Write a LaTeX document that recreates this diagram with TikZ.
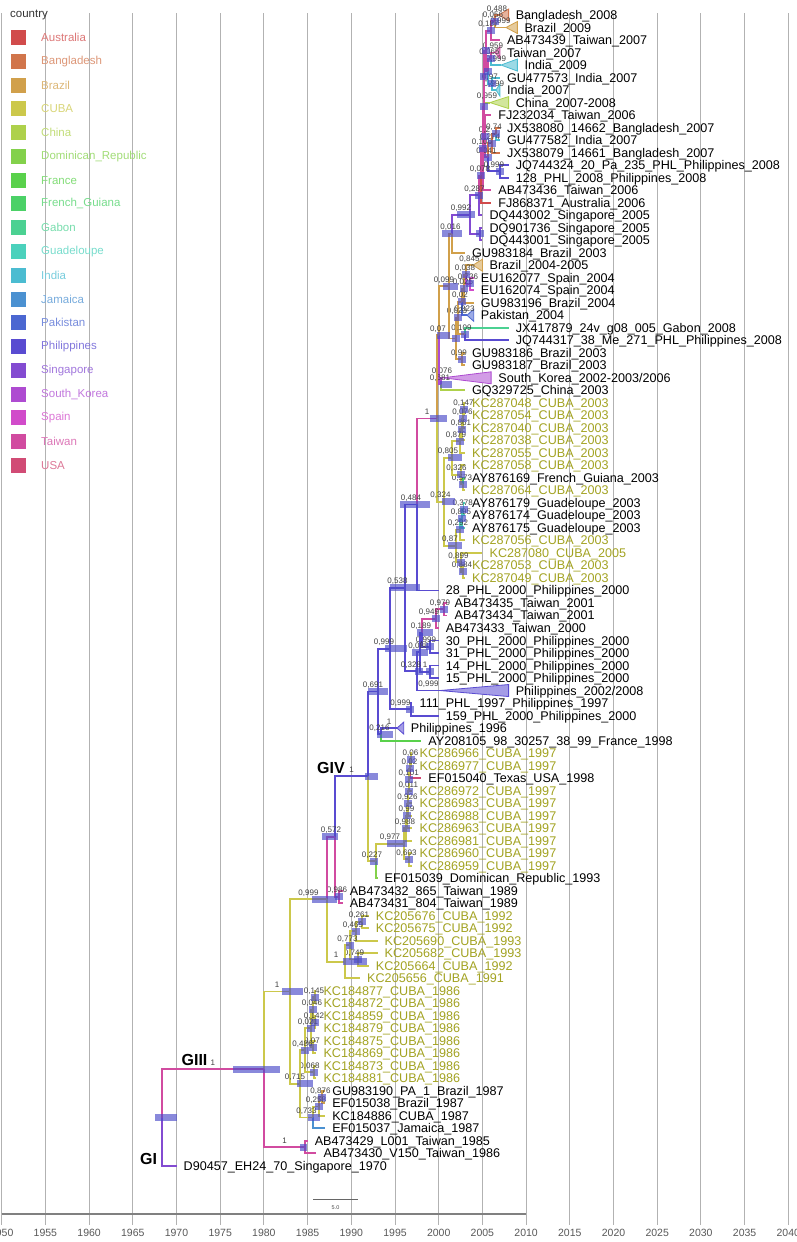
\documentclass[tikz,border=0pt]{standalone}
\usepackage{fontspec}
\setmainfont{Liberation Sans}
\usetikzlibrary{calc}

% country colours (legend order)
\definecolor{cAUS}{HTML}{D14B4B}
\definecolor{cBGD}{HTML}{D1754B}
\definecolor{cBRA}{HTML}{D1A04B}
\definecolor{cCUB}{HTML}{CCC84B}
\definecolor{cCHN}{HTML}{AED14B}
\definecolor{cDOM}{HTML}{83D14B}
\definecolor{cFRA}{HTML}{59D14B}
\definecolor{cGUF}{HTML}{4BD167}
\definecolor{cGAB}{HTML}{4BD192}
\definecolor{cGLP}{HTML}{4BD1BC}
\definecolor{cIND}{HTML}{4BBCD1}
\definecolor{cJAM}{HTML}{4B91D1}
\definecolor{cPAK}{HTML}{4B67D1}
\definecolor{cPHL}{HTML}{594BD1}
\definecolor{cSGP}{HTML}{834BD1}
\definecolor{cKOR}{HTML}{AE4BD1}
\definecolor{cESP}{HTML}{D14BCA}
\definecolor{cTW}{HTML}{D14BA0}
\definecolor{cUSA}{HTML}{D14B75}
\definecolor{cubatxt}{HTML}{A3A322}
\definecolor{hpdblue}{HTML}{4A4AC8}

\begin{document}
\begin{tikzpicture}[x=1pt, y=-1pt,
    br/.style={line width=1.9pt},
    nl/.style={anchor=base, inner sep=0pt, yshift=4pt, text=black!75, font=\fontsize{8}{8}\selectfont},
    lab/.style={anchor=base west, inner sep=0pt, xshift=7pt, yshift=-4.5pt, font=\fontsize{12.6}{12.6}\selectfont},
    clab/.style={inner sep=0pt, font=\fontsize{16}{16}\selectfont\bfseries},
    hpd/.style={fill=hpdblue, fill opacity=.65},
    grid/.style={draw=black!30, line width=.9pt}]

  % node: name, x, child 1, colour, label, child 2, colour, label
  \newcommand\nd[8]{%
    \path let \p1=($(#3)!.5!(#6)$) in coordinate (#1) at (#2pt,\y1);
    \draw[br,#4] (#1) |- (#3) node[nl,pos=.75] {#5};
    \draw[br,#7] (#1) |- (#6) node[nl,pos=.75] {#8};}
  % collapsed clade: apex name, apex x, tip, colour
  \newcommand\clade[4]{%
    \path let \p1=(#3) in coordinate (#1) at (#2pt,\y1);
    \filldraw[#4, fill=#4!55, line width=.8pt] (#1) -- ([yshift=6pt]#3) -- ([yshift=-6pt]#3) -- cycle;}
  % height bars
  \newcommand\hpd[3]{\path let \p1=(#1) in [hpd] (#2pt,\y1-3.5pt) rectangle (#3pt,\y1+3.5pt);}
  \newcommand\sbar[1]{\path let \p1=(#1) in [hpd] (\x1-4pt,\y1-3.5pt) rectangle (\x1+4pt,\y1+3.5pt);}

  \fill[white] (0,0) rectangle (797,1242);
  \useasboundingbox (0,0) rectangle (797,1242);

  % Time axis
  \foreach \yr in {1950,1955,...,2040} {
    \draw[grid] ({1.7+(\yr-1950)*8.74},13) -- ({1.7+(\yr-1950)*8.74},1225);
    \node[text=black!65, font=\fontsize{10.5}{10.5}\selectfont] (ax\yr) at ({1.7+(\yr-1950)*8.74},1233) {\yr};
  }
  \draw[black!50, line width=2pt] (1.7,1214) -- (526.1,1214);
  \coordinate (sb1) at (313,1199);
  \coordinate (sb2) at (358,1199);
  \draw[black!60, line width=1pt] (sb1) -- (sb2);
  \node[text=black!70, font=\fontsize{5.5}{5.5}\selectfont] (sblab) at (335.5,1207.5) {5.0};

  % Legend
  \node[anchor=west, inner sep=0pt, text=black!80, font=\fontsize{11.5}{11.5}\selectfont] (legtitle) at (10,15) {country};
  \foreach \c/\t [count=\k from 0] in {cAUS/Australia, cBGD/Bangladesh, cBRA/Brazil, cCUB/CUBA,
      cCHN/China, cDOM/Dominican\_Republic, cFRA/France, cGUF/French\_Guiana, cGAB/Gabon,
      cGLP/Guadeloupe, cIND/India, cJAM/Jamaica, cPAK/Pakistan, cPHL/Philippines,
      cSGP/Singapore, cKOR/South\_Korea, cESP/Spain, cTW/Taiwan, cUSA/USA} {
    \fill[\c] (11,{30+\k*23.78}) rectangle ++(15,15);
    \node[anchor=west, inner sep=0pt, text=\c!75, font=\fontsize{11.5}{11.5}\selectfont] (leg\k) at (41,{37.5+\k*23.78}) {\t};
  }

  % Tips
  \foreach \i/\yr/\lc/\txt in {
    1/2008/black/Bangladesh\_2008,
    2/2009/black/Brazil\_2009,
    3/2007/black/AB473439\_Taiwan\_2007,
    4/2007/black/Taiwan\_2007,
    5/2009/black/India\_2009,
    6/2007/black/GU477573\_India\_2007,
    7/2007/black/India\_2007,
    8/2008/black/China\_2007-2008,
    9/2006/black/FJ232034\_Taiwan\_2006,
    10/2007/black/JX538080\_14662\_Bangladesh\_2007,
    11/2007/black/GU477582\_India\_2007,
    12/2007/black/JX538079\_14661\_Bangladesh\_2007,
    13/2008/black/JQ744324\_20\_Pa\_235\_PHL\_Philippines\_2008,
    14/2008/black/128\_PHL\_2008\_Philippines\_2008,
    15/2006/black/AB473436\_Taiwan\_2006,
    16/2006/black/FJ868371\_Australia\_2006,
    17/2005/black/DQ443002\_Singapore\_2005,
    18/2005/black/DQ901736\_Singapore\_2005,
    19/2005/black/DQ443001\_Singapore\_2005,
    20/2003/black/GU983184\_Brazil\_2003,
    21/2005/black/Brazil\_2004-2005,
    22/2004/black/EU162077\_Spain\_2004,
    23/2004/black/EU162074\_Spain\_2004,
    24/2004/black/GU983196\_Brazil\_2004,
    25/2004/black/Pakistan\_2004,
    26/2008/black/JX417879\_24v\_g08\_005\_Gabon\_2008,
    27/2008/black/JQ744317\_38\_Me\_271\_PHL\_Philippines\_2008,
    28/2003/black/GU983186\_Brazil\_2003,
    29/2003/black/GU983187\_Brazil\_2003,
    30/2006/black/South\_Korea\_2002-2003\slash 2006,
    31/2003/black/GQ329725\_China\_2003,
    32/2003/cubatxt/KC287048\_CUBA\_2003,
    33/2003/cubatxt/KC287054\_CUBA\_2003,
    34/2003/cubatxt/KC287040\_CUBA\_2003,
    35/2003/cubatxt/KC287038\_CUBA\_2003,
    36/2003/cubatxt/KC287055\_CUBA\_2003,
    37/2003/cubatxt/KC287058\_CUBA\_2003,
    38/2003/black/AY876169\_French\_Guiana\_2003,
    39/2003/cubatxt/KC287064\_CUBA\_2003,
    40/2003/black/AY876179\_Guadeloupe\_2003,
    41/2003/black/AY876174\_Guadeloupe\_2003,
    42/2003/black/AY876175\_Guadeloupe\_2003,
    43/2003/cubatxt/KC287056\_CUBA\_2003,
    44/2005/cubatxt/KC287080\_CUBA\_2005,
    45/2003/cubatxt/KC287053\_CUBA\_2003,
    46/2003/cubatxt/KC287049\_CUBA\_2003,
    47/2000/black/28\_PHL\_2000\_Philippines\_2000,
    48/2001/black/AB473435\_Taiwan\_2001,
    49/2001/black/AB473434\_Taiwan\_2001,
    50/2000/black/AB473433\_Taiwan\_2000,
    51/2000/black/30\_PHL\_2000\_Philippines\_2000,
    52/2000/black/31\_PHL\_2000\_Philippines\_2000,
    53/2000/black/14\_PHL\_2000\_Philippines\_2000,
    54/2000/black/15\_PHL\_2000\_Philippines\_2000,
    55/2008/black/Philippines\_2002\slash 2008,
    56/1997/black/111\_PHL\_1997\_Philippines\_1997,
    57/2000/black/159\_PHL\_2000\_Philippines\_2000,
    58/1996/black/Philippines\_1996,
    59/1998/black/AY208105\_98\_30257\_38\_99\_France\_1998,
    60/1997/cubatxt/KC286966\_CUBA\_1997,
    61/1997/cubatxt/KC286977\_CUBA\_1997,
    62/1998/black/EF015040\_Texas\_USA\_1998,
    63/1997/cubatxt/KC286972\_CUBA\_1997,
    64/1997/cubatxt/KC286983\_CUBA\_1997,
    65/1997/cubatxt/KC286988\_CUBA\_1997,
    66/1997/cubatxt/KC286963\_CUBA\_1997,
    67/1997/cubatxt/KC286981\_CUBA\_1997,
    68/1997/cubatxt/KC286960\_CUBA\_1997,
    69/1997/cubatxt/KC286959\_CUBA\_1997,
    70/1993/black/EF015039\_Dominican\_Republic\_1993,
    71/1989/black/AB473432\_865\_Taiwan\_1989,
    72/1989/black/AB473431\_804\_Taiwan\_1989,
    73/1992/cubatxt/KC205676\_CUBA\_1992,
    74/1992/cubatxt/KC205675\_CUBA\_1992,
    75/1993/cubatxt/KC205690\_CUBA\_1993,
    76/1993/cubatxt/KC205682\_CUBA\_1993,
    77/1992/cubatxt/KC205664\_CUBA\_1992,
    78/1991/cubatxt/KC205656\_CUBA\_1991,
    79/1986/cubatxt/KC184877\_CUBA\_1986,
    80/1986/cubatxt/KC184872\_CUBA\_1986,
    81/1986/cubatxt/KC184859\_CUBA\_1986,
    82/1986/cubatxt/KC184879\_CUBA\_1986,
    83/1986/cubatxt/KC184875\_CUBA\_1986,
    84/1986/cubatxt/KC184869\_CUBA\_1986,
    85/1986/cubatxt/KC184873\_CUBA\_1986,
    86/1986/cubatxt/KC184881\_CUBA\_1986,
    87/1987/black/GU983190\_PA\_1\_Brazil\_1987,
    88/1987/black/EF015038\_Brazil\_1987,
    89/1987/black/KC184886\_CUBA\_1987,
    90/1987/black/EF015037\_Jamaica\_1987,
    91/1985/black/AB473429\_L001\_Taiwan\_1985,
    92/1986/black/AB473430\_V150\_Taiwan\_1986,
    93/1970/black/D90457\_EH24\_70\_Singapore\_1970} {
    \coordinate (t\i) at ({1.7+(\yr-1950)*8.74},{15+(\i-1)*12.51});
    \node[lab, text=\lc] (l\i) at (t\i) {\txt};
  }

  % Collapsed clades
  \clade{k1}{499}{t1}{cBGD}
  \clade{k2}{506}{t2}{cBRA}
  \clade{k4}{495}{t4}{cTW}
  \clade{k5}{501}{t5}{cIND}
  \clade{k7}{496}{t7}{cIND}
  \clade{k8}{490}{t8}{cCHN}
  \clade{k21}{473}{t21}{cBRA}
  \clade{k25}{467}{t25}{cPAK}
  \clade{k30}{443}{t30}{cKOR}
  \clade{k55}{440}{t55}{cPHL}
  \clade{k58}{397}{t58}{cPHL}

  % 2006-2009 Asian group
  \nd{na1}{495}{k1}{cBGD}{0,488}{k2}{cBRA}{0,999}
  \nd{na2}{491}{na1}{cTW}{0,056}{t3}{cTW}{}
  \nd{na3}{491}{k4}{cTW}{0,959}{k5}{cIND}{0,999}
  \nd{na4}{492}{t6}{cIND}{}{k7}{cIND}{0,999}
  \nd{na5}{488}{na3}{cTW}{0,065}{na4}{cIND}{0,97}
  \nd{na6}{486}{na2}{cTW}{0,187}{na5}{cTW}{}
  \nd{na7}{484}{na6}{cTW}{}{k8}{cCHN}{0,959}
  \nd{na8}{496}{t10}{cBGD}{}{t11}{cIND}{}
  \nd{na9}{492}{na8}{cBGD}{0,74}{t12}{cBGD}{}
  \nd{na10}{500}{t13}{cPHL}{}{t14}{cPHL}{}
  \nd{na11}{488}{na9}{cBGD}{0,274}{na10}{cPHL}{0,999}
  \nd{na12}{485}{t9}{cTW}{}{na11}{cTW}{0,041}
  \nd{na13}{484}{na7}{cTW}{}{na12}{cTW}{0,2}
  \nd{na14}{483}{na13}{cTW}{}{t15}{cTW}{}
  \nd{na15}{481}{na14}{cTW}{0,106}{t16}{cAUS}{}
  \nd{na16}{479}{na15}{cTW}{0,078}{t17}{cSGP}{}
  \nd{na17}{480}{t18}{cSGP}{}{t19}{cSGP}{}
  \nd{nV11}{470}{na16}{cSGP}{0,287}{na17}{cSGP}{}
  \nd{nV1}{452}{nV11}{cSGP}{0,992}{t20}{cBRA}{}

  % Brazil / Spain / Pakistan group
  \nd{n036}{470}{t22}{cESP}{}{t23}{cESP}{}
  \nd{n038}{466}{k21}{cBRA}{0,845}{n036}{cESP}{0,736}
  \nd{n0x5}{464}{n038}{cBRA}{0,038}{t24}{cBRA}{}
  \nd{n0x}{462}{n0x5}{cBRA}{0,025}{k25}{cPAK}{0,023}
  \nd{n109}{465}{t26}{cGAB}{}{t27}{cPHL}{}
  \nd{n023}{458}{n0x}{cBRA}{0,02}{n109}{cBRA}{0,109}
  \nd{n99b}{462}{t28}{cBRA}{}{t29}{cBRA}{}
  \nd{nV2}{456}{n023}{cBRA}{0,023}{n99b}{cBRA}{0,99}
  \nd{nV}{449}{nV1}{cBRA}{0,016}{nV2}{cBRA}{}
  \nd{n681}{441}{k30}{cKOR}{0,076}{t31}{cCHN}{}
  \nd{nU}{439}{nV}{cBRA}{0,099}{n681}{cKOR}{0,681}

  % CUBA 2003
  \nd{n147}{464}{t32}{cCUB}{}{t33}{cCUB}{}
  \nd{n076}{463}{n147}{cCUB}{0,147}{t34}{cCUB}{}
  \nd{n861}{462}{n076}{cCUB}{0,076}{t35}{cCUB}{}
  \nd{n879}{460}{n861}{cCUB}{0,861}{t36}{cCUB}{}
  \nd{n573}{463}{t38}{cGUF}{}{t39}{cCUB}{}
  \nd{n326}{461}{t37}{cCUB}{}{n573}{cCUB}{0,573}
  \nd{n805}{452}{n879}{cCUB}{0,879}{n326}{cCUB}{0,326}
  \nd{n378}{463.5}{t40}{cGLP}{}{t41}{cGLP}{}
  \nd{n895}{462}{n378}{cGLP}{0,378}{t42}{cGLP}{}
  \nd{n292}{460}{n895}{cGLP}{0,895}{t43}{cCUB}{}
  \nd{n884}{463}{t45}{cCUB}{}{t46}{cCUB}{}
  \nd{n899}{461}{t44}{cCUB}{}{n884}{cCUB}{0,884}
  \nd{n87}{456}{n292}{cCUB}{0,292}{n899}{cCUB}{0,899}
  \nd{n324}{444}{n805}{cCUB}{0,805}{n87}{cCUB}{0,87}
  \nd{nN1}{437}{nU}{cBRA}{0,07}{n324}{cCUB}{0,324}
  \nd{n484}{417}{nN1}{cTW}{1}{t47}{cPHL}{}

  % Philippines 1996-2008
  \nd{n979}{444}{t48}{cTW}{}{t49}{cTW}{}
  \nd{n949}{436}{n979}{cTW}{0,979}{t50}{cTW}{}
  \nd{n999c}{430}{t51}{cPHL}{}{t52}{cPHL}{}
  \nd{n189}{422}{n949}{cTW}{0,949}{n999c}{cPHL}{0,999}
  \nd{n1p}{430}{t53}{cPHL}{}{t54}{cPHL}{}
  \nd{n088}{420}{n189}{cPHL}{0,189}{n1p}{cPHL}{1}
  \nd{n328}{417}{n088}{cPHL}{0,088}{k55}{cPHL}{0,999}
  \nd{n538}{405}{n484}{cPHL}{0,484}{n328}{cPHL}{0,328}
  \nd{n999b}{411}{t56}{cPHL}{}{t57}{cPHL}{}
  \nd{n999a}{390}{n538}{cPHL}{0,538}{n999b}{cPHL}{0,999}
  \nd{n216}{381}{k58}{cPHL}{1}{t59}{cFRA}{}
  \nd{n691}{378}{n999a}{cPHL}{0,999}{n216}{cPHL}{0,216}

  % CUBA 1997
  \nd{n06}{411}{t60}{cCUB}{}{t61}{cCUB}{}
  \nd{n02}{410}{n06}{cCUB}{0,06}{t62}{cUSA}{}
  \nd{n101}{409}{n02}{cCUB}{0,02}{t63}{cCUB}{}
  \nd{n011}{408.5}{n101}{cCUB}{0,101}{t64}{cCUB}{}
  \nd{n926}{408}{n011}{cCUB}{0,011}{t65}{cCUB}{}
  \nd{n99}{407}{n926}{cCUB}{0,926}{t66}{cCUB}{}
  \nd{n988}{406}{n99}{cCUB}{0,99}{t67}{cCUB}{}
  \nd{n603}{409}{t68}{cCUB}{}{t69}{cCUB}{}
  \nd{n977}{404}{n988}{cCUB}{0,988}{n603}{cCUB}{0,603}
  \nd{n227}{376}{n977}{cCUB}{0,977}{t70}{cDOM}{}
  \nd{nGIV}{368}{n691}{cPHL}{0,691}{n227}{cCUB}{0,227}
  \nd{n986}{339}{t71}{cTW}{}{t72}{cTW}{}
  \nd{n572}{335}{nGIV}{cPHL}{1}{n986}{cTW}{0,986}

  % CUBA 1991-1993
  \nd{n261}{362}{t73}{cCUB}{}{t74}{cCUB}{}
  \nd{n469}{356}{n261}{cCUB}{0,261}{t75}{cCUB}{}
  \nd{n749}{358}{t76}{cCUB}{}{t77}{cCUB}{}
  \nd{n773}{350}{n469}{cCUB}{0,469}{n749}{cCUB}{0,749}
  \nd{n1c}{345}{n773}{cCUB}{0,773}{t78}{cCUB}{}
  \nd{nB}{327}{n572}{cTW}{0,572}{n1c}{cCUB}{1}

  % CUBA 1986-1987
  \nd{n145}{315}{t79}{cCUB}{}{t80}{cCUB}{}
  \nd{n142}{315}{t81}{cCUB}{}{t82}{cCUB}{}
  \nd{n046}{313}{n145}{cCUB}{0,145}{n142}{cCUB}{0,142}
  \nd{n070}{313}{t83}{cCUB}{}{t84}{cCUB}{}
  \nd{n021}{311}{n046}{cCUB}{0,046}{n070}{cCUB}{0,07}
  \nd{n068}{314}{t85}{cCUB}{}{t86}{cCUB}{}
  \nd{n486}{305}{n021}{cCUB}{0,021}{n068}{cCUB}{0,068}
  \nd{n876}{322}{t87}{cBRA}{}{t88}{cBRA}{}
  \nd{n258}{319}{n876}{cBRA}{0,876}{t89}{cCUB}{}
  \nd{n733}{313}{n258}{cCUB}{0,258}{t90}{cJAM}{}
  \nd{n715}{300}{n486}{cCUB}{0,486}{n733}{cCUB}{0,733}
  \nd{nA}{290}{nB}{cCUB}{0,999}{n715}{cCUB}{0,715}
  \nd{n85}{305}{t91}{cTW}{}{t92}{cTW}{}
  \nd{nG3}{264}{nA}{cCUB}{1}{n85}{cTW}{1}
  \nd{nroot}{161.7}{nG3}{cTW}{1}{t93}{cSGP}{}

  % Genotype names
  \node[clab] (gI) at (148.5,1159) {GI};
  \node[clab] (gIII) at (194.5,1060) {GIII};
  \node[clab] (gIV) at (331,768) {GIV};

  % Node height bars
  \hpd{nroot}{155}{177}
  \hpd{nG3}{233}{280}
  \hpd{n85}{300}{307}
  \hpd{nA}{282}{303}
  \hpd{n715}{297}{313}
  \hpd{n733}{308}{320}
  \hpd{nB}{312}{337}
  \hpd{n572}{322}{338}
  \hpd{n1c}{343}{367}
  \hpd{nGIV}{365}{378}
  \hpd{n227}{370}{378}
  \hpd{n977}{387}{407}
  \hpd{n691}{368}{388}
  \hpd{n216}{377}{393}
  \hpd{n999a}{385}{407}
  \hpd{n538}{390}{420}
  \hpd{n484}{400}{430}
  \hpd{nN1}{430}{447}
  \hpd{n324}{442}{455}
  \hpd{n805}{448}{462}
  \hpd{n87}{448}{462}
  \hpd{nU}{437}{450}
  \hpd{n681}{440}{452}
  \hpd{nV}{443}{458}
  \hpd{nV1}{442}{462}
  \hpd{nV11}{457}{475}
  \hpd{n088}{412}{428}
  \hpd{n189}{417}{433}
  \hpd{n328}{415}{423}
  \hpd{n999b}{406}{414}
  \foreach \nm in {na1,na2,na3,na4,na5,na6,na7,na8,na9,na10,na11,na12,na13,na14,na15,na16,na17,
      n036,n038,n0x5,n0x,n109,n023,n99b,nV2,n147,n076,n861,n879,n573,n326,n378,n895,n292,
      n884,n899,n979,n949,n999c,n1p,n06,n02,n101,n011,n926,n99,n988,n603,n986,
      n261,n469,n749,n773,n145,n142,n046,n070,n021,n068,n486,n876,n258} {\sbar{\nm}}
\end{tikzpicture}
\end{document}
